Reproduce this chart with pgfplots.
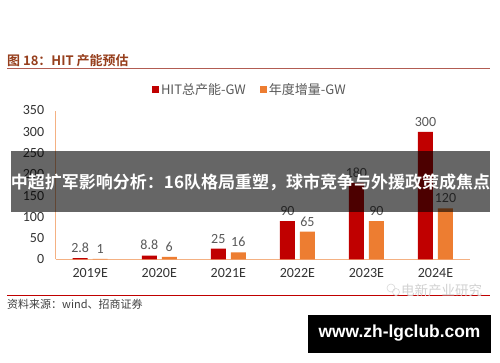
\documentclass[border=0pt]{standalone}
\usepackage{fontspec}
\usepackage{pgfplots}
\pgfplotsset{compat=1.18}
\setmainfont{Carlito}
\newfontfamily\cjk{Noto Sans CJK SC}[BoldFont={Noto Sans CJK SC Bold}]
\newfontfamily\webfont{Liberation Sans}
\definecolor{hitred}{HTML}{C00000}
\definecolor{incor}{HTML}{ED7D31}
\definecolor{axisor}{HTML}{F4B183}
\definecolor{lblgray}{HTML}{595959}
\definecolor{titlebrown}{RGB}{150,62,28}
\definecolor{titleline}{RGB}{178,92,82}
\begin{document}
\begin{tikzpicture}
\useasboundingbox (0pt,0pt) rectangle (500pt,362pt);
\fill[white] (0pt,0pt) rectangle (500pt,362pt);
% title
\node[anchor=west, inner sep=0pt, text=titlebrown, font=\cjk\bfseries\fontsize{13}{15}\selectfont] at (7pt,301pt) {图 18：HIT 产能预估};
\draw[titleline, line width=1.3pt] (7pt,293.5pt) -- (490pt,293.5pt);
% chart
\begin{axis}[
  at={(55.7pt,102.7pt)}, anchor=south west, scale only axis,
  width=414.3pt, height=148.8pt,
  xmin=-0.5, xmax=5.5, ymin=0, ymax=350,
  ytick={0,50,100,150,200,250,300,350},
  xtick={0,1,2,3,4,5},
  xticklabels={2019E,2020E,2021E,2022E,2023E,2024E},
  axis lines*=left,
  axis line style={axisor, line width=0.9pt},
  major tick length=0pt,
  ybar=5pt, bar width=15pt,
  tick label style={font=\fontsize{14}{16}\selectfont, text=black!80},
  /pgf/number format/assume math mode=true,
  yticklabel style={xshift=-8pt},
  xticklabel style={yshift=-6pt},
  nodes near coords,
  nodes near coords style={font=\fontsize{14}{16}\selectfont, text=lblgray, yshift=2pt},
  legend columns=2,
  legend style={draw=none, fill=none, inner sep=0pt, at={(0.232,1.138)}, anchor=west,
    font=\cjk\fontsize{13}{15}\selectfont, text=lblgray,
    /tikz/every even column/.append style={column sep=12pt}},
  legend image code/.code={\fill[#1] (0pt,-3.5pt) rectangle (7pt,3.5pt);},
]
\addplot[fill=hitred, draw=none] coordinates {(0,2.8) (1,8.8) (2,25) (3,90) (4,180) (5,300)};
\addplot[fill=incor, draw=none] coordinates {(0,1) (1,6) (2,16) (3,65) (4,90) (5,120)};
\legend{HIT总产能-GW, 年度增量-GW}
\end{axis}
% footer
\draw[hitred, line width=1pt] (7pt,67pt) -- (490pt,67pt);
\node[anchor=west, inner sep=0pt, text=black!75, font=\cjk\fontsize{11}{13}\selectfont] at (7pt,58pt) {资料来源：wind、招商证券};
% watermark
\draw[gray!30, line width=0.6pt] (391pt,74pt) circle (4pt);
\draw[gray!30, line width=0.6pt] (396pt,70pt) circle (3.5pt);
\node[anchor=west, inner sep=0pt, text=gray!35, font=\cjk\fontsize{13.5}{15}\selectfont] at (401pt,72pt) {电新产业研究};
% overlay banner
\fill[black, opacity=0.6] (10.5pt,150.3pt) rectangle (490pt,211.3pt);
\node[text=white, inner sep=0pt, font=\cjk\bfseries\fontsize{17}{20}\selectfont] at (250.5pt,180pt) {中超扩军影响分析：16队格局重塑，球市竞争与外援政策成焦点};
% website box
\fill[black] (308pt,9.3pt) rectangle (491pt,47pt);
\node[text=white, inner sep=0pt, font=\webfont\bfseries\fontsize{17.4}{20}\selectfont] at (399.5pt,28.5pt) {www.zh-lgclub.com};
\end{tikzpicture}
\end{document}
